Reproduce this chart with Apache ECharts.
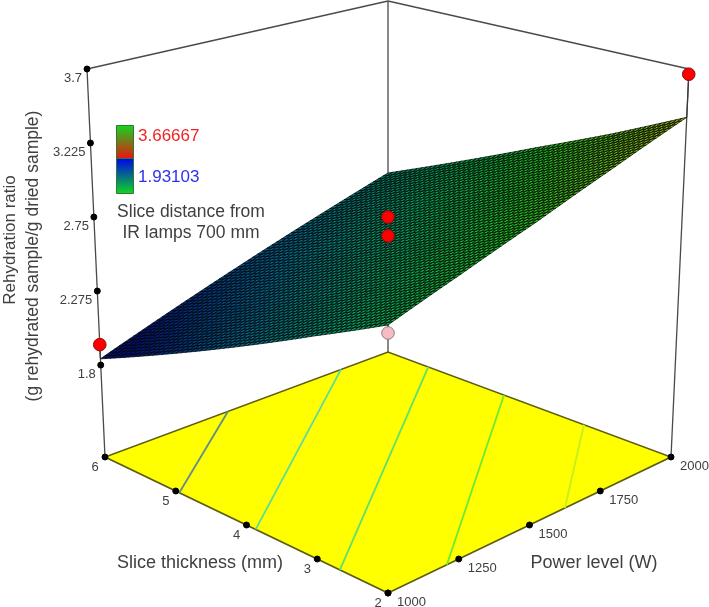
<!DOCTYPE html>
<html>
<head>
<meta charset="utf-8">
<title>Rehydration ratio surface</title>
<style>html,body{margin:0;padding:0;background:#fff}#chart{width:709px;height:607px}</style>
<script src="https://cdn.jsdelivr.net/npm/echarts@6/dist/echarts.min.js"></script>
</head>
<body>
<div id="chart"></div>
<script>
// tick values
var powerTicks = [1000, 1250, 1500, 1750, 2000];
var thicknessTicks = [2, 3, 4, 5, 6];
var ratioTicks = [1.8, 2.275, 2.75, 3.225, 3.7];

// response surface, rows = thickness, cols = power
var surfaceThickness = [2, 3, 4, 5, 6];
var surfacePower = [1000, 1250, 1500, 1750, 2000];
var surfaceRatio = [
    [2.71, 2.86, 3.02, 3.20, 3.39],
    [2.50, 2.65, 2.81, 2.98, 3.16],
    [2.28, 2.43, 2.59, 2.76, 2.94],
    [2.06, 2.21, 2.37, 2.54, 2.71],
    [1.84, 2.00, 2.16, 2.32, 2.48]
];

// design points
var pointPower = [1000, 2000, 1500, 1500, 1500];
var pointThickness = [6, 2, 4, 4, 4];
var pointRatio = [1.93103, 3.66667, 2.78, 2.66, 2.045];

// contours on the floor, [power, thickness] at both ends
var contourStart = [[1000, 4.95], [1000, 3.87], [1000, 2.68], [1208, 2], [1625, 2]];
var contourEnd = [[1435, 6], [1834, 6], [2000, 5.43], [2000, 4.36], [2000, 3.23]];
var contourColors = ['#5f8f8a', '#5adc9c', '#5ee070', '#6ce838', '#c4ee20'];

var legendMax = 3.66667;
var legendMin = 1.93103;
var floorRatio = 1.21; // the floor sits under the bottom of the z axis

// screen corners of the box
var floorFront = [388, 593], floorRight = [671, 457], floorLeft = [105, 457], floorBack = [388, 352];
var topFront = [388, 148], topRight = [689, 69], topLeft = [87, 69], topBack = [388, 1];

var surfaceColors = ['#001078', '#006a90', '#00a860', '#20c820', '#90c010', '#e0a020'];

var linearMap = echarts.number.linearMap;

function mix(a, b, f) {
    return [a[0] + (b[0] - a[0]) * f, a[1] + (b[1] - a[1]) * f];
}

// bilinear box projection
function project(power, thickness, ratio) {
    var u = linearMap(power, [1000, 2000], [0, 1]);
    var v = linearMap(thickness, [2, 6], [0, 1]);
    var w = linearMap(ratio, [floorRatio, 3.7], [0, 1]);
    var low = mix(mix(floorFront, floorRight, u), mix(floorLeft, floorBack, u), v);
    var high = mix(mix(topFront, topRight, u), mix(topLeft, topBack, u), v);
    return mix(low, high, w);
}

function surfaceAt(power, thickness) {
    return surfaceRatio[surfaceThickness.indexOf(thickness)][surfacePower.indexOf(power)];
}

function ratioColor(ratio) {
    var f = linearMap(ratio, [legendMin, legendMax], [0, 1], true);
    return echarts.color.lerp(f, surfaceColors);
}

var textColor = '#404040';
var fontName = '"Liberation Sans", Arial, sans-serif';
var meshSteps = 15;

function lineEl(a, b, color, width) {
    return {
        type: 'line',
        shape: { x1: a[0], y1: a[1], x2: b[0], y2: b[1] },
        style: { stroke: color, lineWidth: width }
    };
}

function textEl(text, x, y, align, size, color) {
    return {
        type: 'text',
        style: {
            text: text, x: x, y: y, align: align, verticalAlign: 'middle',
            font: size + 'px ' + fontName, fill: color
        }
    };
}

function dotEl(p, r, fill, stroke) {
    return {
        type: 'circle',
        shape: { cx: p[0], cy: p[1], r: r },
        style: { fill: fill, stroke: stroke, lineWidth: 1 }
    };
}

// box walls
function renderWalls() {
    var wallColor = '#4a4a4a';
    return {
        type: 'group',
        children: [
            lineEl(floorBack, topBack, wallColor, 1.3),
            lineEl(floorLeft, topLeft, wallColor, 1.3),
            lineEl(floorRight, topRight, wallColor, 1.3),
            lineEl(topLeft, topBack, wallColor, 1.3),
            lineEl(topBack, topRight, wallColor, 1.3)
        ]
    };
}

function renderFloor() {
    return {
        type: 'polygon',
        shape: { points: [floorFront, floorRight, floorBack, floorLeft] },
        style: { fill: '#ffff00', stroke: '#5c5c12', lineWidth: 1.6 }
    };
}

function renderContour(params, api) {
    var i = api.value(0);
    var a = project(contourStart[i][0], contourStart[i][1], floorRatio);
    var b = project(contourEnd[i][0], contourEnd[i][1], floorRatio);
    return lineEl(a, b, contourColors[i], 1.8);
}

function renderStem(params, api) {
    var power = api.value(0), thickness = api.value(1);
    return lineEl(
        project(power, thickness, api.value(2)),
        project(power, thickness, surfaceAt(power, thickness)),
        '#3a3a3a', 1.2
    );
}

function renderPoint(params, api) {
    var p = project(api.value(0), api.value(1), api.value(2));
    var above = api.value(2) > surfaceAt(api.value(0), api.value(1));
    return above ? dotEl(p, 6.3, '#ff0000', '#8a1010') : dotEl(p, 6.3, '#f6bcc4', '#8a8080');
}

// one coarse cell of the surface, split into mesh cells
function renderSurface(params, api) {
    var r = api.value(0), c = api.value(1);
    var p0 = surfacePower[c], p1 = surfacePower[c + 1];
    var t0 = surfaceThickness[r], t1 = surfaceThickness[r + 1];
    var z00 = surfaceRatio[r][c], z01 = surfaceRatio[r][c + 1];
    var z10 = surfaceRatio[r + 1][c], z11 = surfaceRatio[r + 1][c + 1];
    function at(a, b) {
        var z = z00 * (1 - a) * (1 - b) + z01 * a * (1 - b) + z10 * (1 - a) * b + z11 * a * b;
        return { z: z, p: project(p0 + (p1 - p0) * a, t0 + (t1 - t0) * b, z) };
    }
    var children = [];
    for (var i = 0; i < meshSteps; i++) {
        for (var j = 0; j < meshSteps; j++) {
            var a0 = i / meshSteps, a1 = (i + 1) / meshSteps;
            var b0 = j / meshSteps, b1 = (j + 1) / meshSteps;
            var mid = at((a0 + a1) / 2, (b0 + b1) / 2);
            children.push({
                type: 'polygon',
                shape: { points: [at(a0, b0).p, at(a1, b0).p, at(a1, b1).p, at(a0, b1).p] },
                style: { fill: ratioColor(mid.z), stroke: 'rgba(0,0,0,0.72)', lineWidth: 1 }
            });
        }
    }
    return { type: 'group', children: children };
}

function renderPowerTick(params, api) {
    var v = api.value(0);
    var p = project(v, 2, floorRatio);
    return {
        type: 'group',
        children: [dotEl(p, 3, '#000', '#000'), textEl(String(v), p[0] + 9, p[1] + 9, 'left', 13, textColor)]
    };
}

function renderThicknessTick(params, api) {
    var v = api.value(0);
    var p = project(1000, v, floorRatio);
    return {
        type: 'group',
        children: [dotEl(p, 3, '#000', '#000'), textEl(String(v), p[0] - 10, p[1] + 10, 'center', 13, textColor)]
    };
}

function renderRatioTick(params, api) {
    var v = api.value(0);
    var p = project(1000, 6, v);
    return {
        type: 'group',
        children: [dotEl(p, 3, '#000', '#000'), textEl(String(v), p[0] - 5, p[1] + 9, 'right', 13, textColor)]
    };
}

function customSeries(fn, data) {
    return {
        type: 'custom',
        coordinateSystem: 'none',
        renderItem: fn,
        data: data,
        silent: true,
        animation: false
    };
}

var cells = [];
for (var r = 0; r < surfaceThickness.length - 1; r++) {
    for (var c = 0; c < surfacePower.length - 1; c++) {
        cells.push([r, c]);
    }
}

var pointsBelow = [], pointsAbove = [];
pointPower.forEach(function (power, i) {
    var row = [power, pointThickness[i], pointRatio[i]];
    if (pointRatio[i] > surfaceAt(power, pointThickness[i])) {
        pointsAbove.push(row);
    } else {
        pointsBelow.push(row);
    }
});

var myChart = echarts.init(document.getElementById('chart'), null, { renderer: 'canvas' });

var option = {
    backgroundColor: '#ffffff',
    animation: false,
    textStyle: { fontFamily: fontName },
    graphic: {
        elements: [
            {
                type: 'rect', left: 116, top: 125, z: 20,
                shape: { width: 17, height: 33 },
                style: {
                    stroke: '#2f7a2f', lineWidth: 1,
                    fill: new echarts.graphic.LinearGradient(0, 0, 0, 1, [
                        { offset: 0, color: '#10d820' }, { offset: 1, color: '#f01010' }
                    ])
                }
            },
            {
                type: 'rect', left: 116, top: 158, z: 20,
                shape: { width: 17, height: 35 },
                style: {
                    stroke: '#2f7a2f', lineWidth: 1,
                    fill: new echarts.graphic.LinearGradient(0, 0, 0, 1, [
                        { offset: 0, color: '#0000f0' }, { offset: 1, color: '#10d820' }
                    ])
                }
            },
            { type: 'text', left: 138, top: 128, z: 20, style: { text: '3.66667', font: '17px ' + fontName, fill: '#f02424' } },
            { type: 'text', left: 138, top: 169, z: 20, style: { text: '1.93103', font: '17px ' + fontName, fill: '#3030ee' } },
            { type: 'text', x: 191, y: 212, z: 20, style: { text: 'Slice distance from', align: 'center', verticalAlign: 'middle', font: '17.5px ' + fontName, fill: textColor } },
            { type: 'text', x: 191, y: 233, z: 20, style: { text: 'IR lamps 700 mm', align: 'center', verticalAlign: 'middle', font: '17.5px ' + fontName, fill: textColor } },
            { type: 'text', x: 200, y: 563, z: 20, style: { text: 'Slice thickness (mm)', align: 'center', verticalAlign: 'middle', font: '18px ' + fontName, fill: textColor } },
            { type: 'text', x: 594, y: 563, z: 20, style: { text: 'Power level (W)', align: 'center', verticalAlign: 'middle', font: '18px ' + fontName, fill: textColor } },
            { type: 'text', x: 10, y: 240, rotation: Math.PI / 2, z: 20, style: { text: 'Rehydration ratio', align: 'center', verticalAlign: 'middle', font: '17px ' + fontName, fill: textColor } },
            { type: 'text', x: 33, y: 256, rotation: Math.PI / 2, z: 20, style: { text: '(g rehydrated sample/g dried sample)', align: 'center', verticalAlign: 'middle', font: '17.5px ' + fontName, fill: textColor } }
        ]
    },
    series: [
        customSeries(renderWalls, [[0]]),
        customSeries(renderFloor, [[0]]),
        customSeries(renderContour, contourColors.map(function (d, i) { return [i]; })),
        customSeries(renderStem, pointsBelow),
        customSeries(renderPoint, pointsBelow),
        customSeries(renderSurface, cells),
        customSeries(renderStem, pointsAbove),
        customSeries(renderPoint, pointsAbove),
        customSeries(renderPowerTick, powerTicks.map(function (v) { return [v]; })),
        customSeries(renderThicknessTick, thicknessTicks.map(function (v) { return [v]; })),
        customSeries(renderRatioTick, ratioTicks.map(function (v) { return [v]; }))
    ]
};
myChart.setOption(option);
</script>
</body>
</html>
